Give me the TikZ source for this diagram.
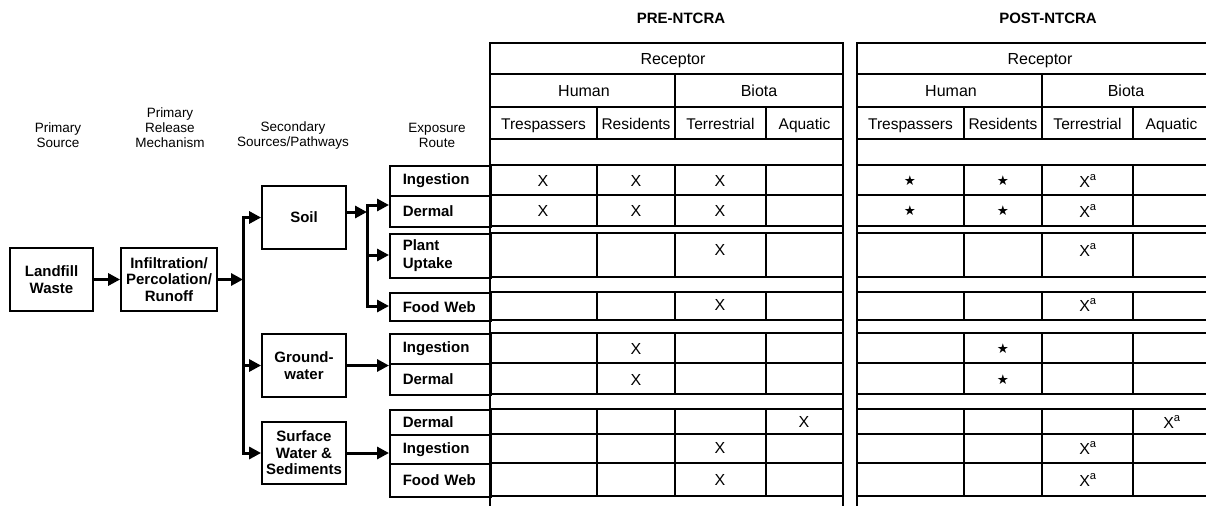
\documentclass[tikz,border=0pt]{standalone}
\usepackage{fontspec}
\setmainfont{Liberation Sans}
\newfontfamily\symfam{DejaVu Sans}
\usetikzlibrary{arrows.meta}
\begin{document}
\begin{tikzpicture}[x=1pt,y=-1pt,
  tbl/.style={line width=1.5pt},
  flowbox/.style={draw, line width=1.8pt, inner sep=1pt, align=center, font=\fontsize{15}{16.5}\selectfont\bfseries},
  route/.style={draw, line width=1.6pt, anchor=north west, text width=75pt, inner xsep=13pt, inner ysep=0pt, align=left, font=\fontsize{15}{17.5}\selectfont\bfseries},
  lab/.style={align=center, inner sep=0pt, font=\fontsize{13.5}{15}\selectfont},
  hdr/.style={inner sep=0pt, anchor=base, font=\fontsize{16}{18}\selectfont},
  subhdr/.style={inner sep=0pt, anchor=base, font=\fontsize{15.5}{18}\selectfont},
  ttl/.style={inner sep=0pt, font=\fontsize{15}{18}\selectfont\bfseries},
  xmk/.style={inner sep=0pt, font=\fontsize{16}{18}\selectfont},
  starmk/.style={inner sep=0pt, font=\symfam\fontsize{13.5}{15}\selectfont},
  flow/.style={line width=3pt, -{Triangle[length=12pt,width=12pt]}}
]
\clip (0,0) rectangle (1206,506);
\fill[white] (0,0) rectangle (1206,506);

% ---------- column labels ----------
\node[lab] (lPS) at (58,135.5) {Primary\\Source};
\node[lab] (lPR) at (170,128) {Primary\\Release\\Mechanism};
\node[lab] (lSS) at (293,135.5) {Secondary\\Sources/Pathways};
\node[lab] (lER) at (437,135.5) {Exposure\\Route};

% ---------- flow boxes ----------
\node[flowbox, minimum width=83pt, minimum height=63pt] (lw) at (51.5,279.5) {Landfill\\Waste};
\node[flowbox, minimum width=96pt, minimum height=63pt] (inf) at (169,279.5) {Infiltration/\\Percolation/\\Runoff};
\node[flowbox, minimum width=84pt, minimum height=63pt] (soil) at (304,217.5) {Soil};
\node[flowbox, minimum width=84pt, minimum height=63pt] (gw) at (304,365.5) {Ground-\\water};
\node[flowbox, minimum width=84pt, minimum height=62pt] (sw) at (304,453) {Surface\\Water \&\\Sediments};

% ---------- exposure route cells ----------
\node[route, minimum height=30pt] (rSI) at (389,165) {Ingestion};
\node[route, minimum height=31pt] (rSD) at (389,195) {Dermal};
\node[route, minimum height=44pt] (rPU) at (389,233) {Plant\\Uptake};
\node[route, minimum height=28pt] (rFW) at (389,292) {Food Web};
\node[route, minimum height=30pt] (rGI) at (389,333) {Ingestion};
\node[route, minimum height=31pt] (rGD) at (389,363) {Dermal};
\node[route, minimum height=25pt] (rWD) at (389,409) {Dermal};
\node[route, minimum height=29pt] (rWI) at (389,434) {Ingestion};
\node[route, minimum height=33pt] (rWF) at (389,463) {Food Web};

% ---------- connectors ----------
\coordinate (t1) at (243,217.5);
\coordinate (t2) at (243,365.5);
\coordinate (t3) at (243,453);
\coordinate (sb1) at (367,205);
\coordinate (sb2) at (367,255);
\coordinate (sb3) at (367,306);

\draw[flow] (lw) -- (inf);
\draw[flow] (inf.east) -- (inf.east -| t1);
\draw[flow] (t3) -- (t1) -- (soil.west);
\draw[flow] (t1) -- (t3) -- (sw.west);
\draw[flow] (t2) -- (gw.west);
\draw[flow] (soil.east |- 0,212) -- (sb1 |- 0,212);
\draw[flow] (sb3) -- (sb1) -- (sb1 -| rSD.west);
\draw[flow] (sb1) -- (sb3) -- (sb3 -| rFW.west);
\draw[flow] (sb2) -- (sb2 -| rPU.west);
\draw[flow] (gw.east) -- (gw.east -| rGI.west);
\draw[flow] (sw.east) -- (sw.east -| rWI.west);

% ---------- tables ----------
\foreach \dx/\tag/\ttltext in {0/pre/PRE-NTCRA, 367/post/POST-NTCRA}{
  \begin{scope}[xshift=\dx pt]
    \node[ttl] (\tag-title) at (681,18) {\ttltext};
    \draw[tbl] (490,43) -- (490,506);
    \draw[tbl] (843,43) -- (843,506);
    \draw[tbl] (490,43) rectangle (843,74);
    \draw[tbl] (490,74) rectangle (675,107);
    \draw[tbl] (675,74) rectangle (843,107);
    \draw[tbl] (490,139) rectangle (843,165);
    \foreach \a/\b in {490/597,597/675,675/766,766/843}{
      \draw[tbl] (\a,107) rectangle (\b,139);
      \foreach \t/\u in {165/195,195/226,233/277,292/320,333/363,363/394,409/434,434/463,463/496}{
        \draw[tbl] (\a,\t) rectangle (\b,\u);
      }
    }
    \node[hdr] (\tag-rec) at (673,64.5) {Receptor};
    \node[hdr] (\tag-hum) at (584,96.5) {Human};
    \node[hdr] (\tag-bio) at (759,96.5) {Biota};
    \node[subhdr] (\tag-tre) at (543.5,129) {Trespassers};
    \node[subhdr] (\tag-res) at (636,129) {Residents};
    \node[subhdr] (\tag-ter) at (720.5,129) {Terrestrial};
    \node[subhdr] (\tag-aqu) at (804.5,129) {Aquatic};
  \end{scope}
}

% PRE marks
\foreach \px/\py [count=\i] in {543/181,636/181,720/181,543/211,636/211,720/211,720/250,720/305,636/349,636/380,804/422,720/448,720/480}{
  \node[xmk] (pre-m\i) at (\px,\py) {X};
}
% POST marks: stars
\foreach \px/\py [count=\i] in {910/181,1003/181,910/211,1003/211,1003/349,1003/380}{
  \node[starmk] (post-s\i) at (\px,\py) {★};
}
% POST marks: X^a
\foreach \px/\py [count=\i] in {1088/181,1088/211,1088/250,1088/305,1172/422,1088/448,1088/480}{
  \node[xmk] (post-x\i) at (\px,\py) {X\textsuperscript{a}};
}
\end{tikzpicture}
\end{document}
